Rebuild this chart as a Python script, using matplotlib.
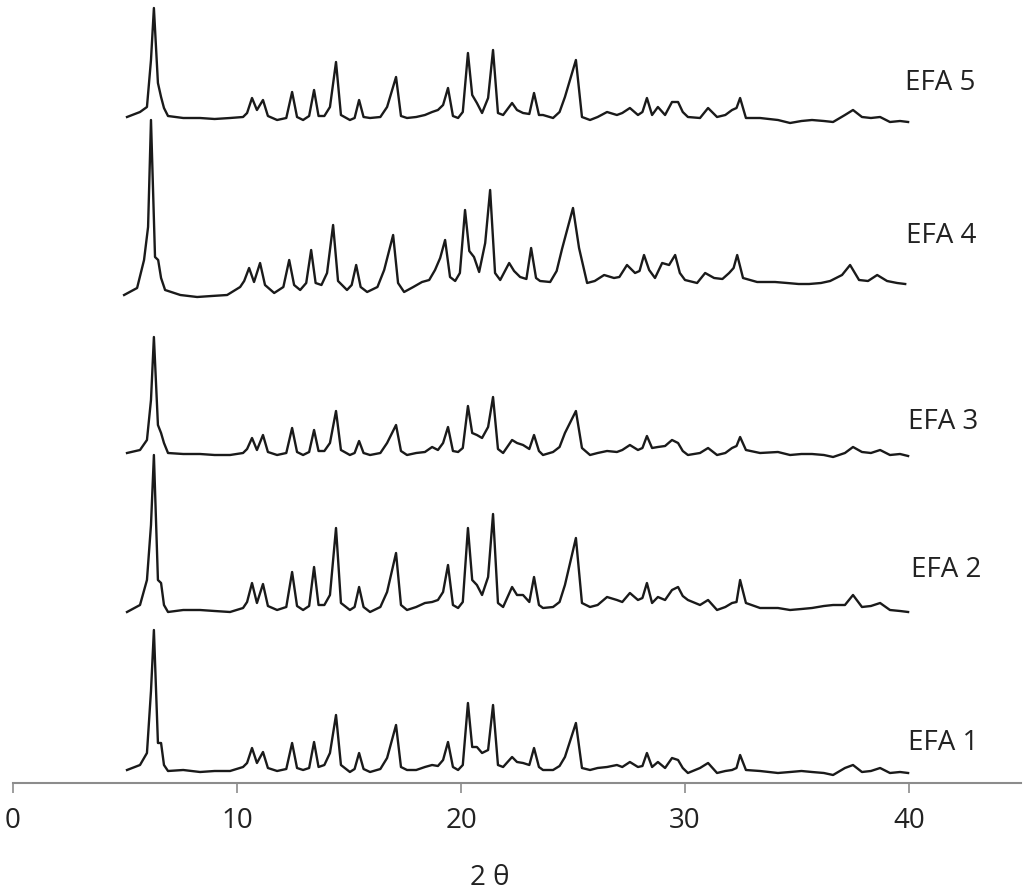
import matplotlib
matplotlib.use('Agg')
import matplotlib.pyplot as plt

# 2-theta positions of the trace vertices (degrees)
two_theta = [5.09, 5.67, 5.98, 6.16, 6.29, 6.47, 6.61, 6.74, 6.92, 7.60,
             8.35, 9.00, 9.69, 10.27, 10.45, 10.67, 10.89, 11.16, 11.38, 11.79,
             12.20, 12.46, 12.68, 12.95, 13.22, 13.44, 13.64, 13.90, 14.15, 14.42,
             14.64, 15.04, 15.25, 15.45, 15.65, 15.94, 16.40, 16.70, 17.10, 17.32,
             17.59, 18.00, 18.39, 18.71, 18.97, 19.20, 19.42, 19.64, 19.87, 20.08,
             20.31, 20.50, 20.71, 20.94, 21.21, 21.43, 21.65, 21.88, 22.28, 22.50,
             22.77, 23.05, 23.26, 23.48, 23.66, 24.11, 24.40, 24.64, 25.13, 25.40,
             25.76, 26.10, 26.52, 26.96, 27.20, 27.54, 27.90, 28.10, 28.30, 28.53,
             28.79, 29.11, 29.42, 29.69, 29.90, 30.13, 30.67, 31.03, 31.43, 31.80,
             32.10, 32.30, 32.46, 32.72, 33.35, 34.15, 34.69, 35.20, 35.67, 36.20,
             36.61, 37.14, 37.50, 37.90, 38.30, 38.71, 39.15, 39.60, 39.96]

# intensities above each baseline (a.u.)
efa1 = [1, 6, 18, 80, 141, 28, 28, 6, 0, 1,
        -1, 0, 0, 4, 8, 23, 8, 19, 3, 0,
        2, 28, 3, 1, 3, 29, 4, 6, 18, 56,
        6, -1, 2, 18, 2, -1, 2, 13, 46, 4,
        1, 1, 4, 6, 5, 11, 29, 4, 1, 6,
        68, 24, 24, 18, 21, 66, 6, 4, 14, 9,
        8, 6, 23, 4, 1, 1, 5, 14, 48, 3,
        1, 3, 4, 6, 4, 9, 4, 5, 18, 4,
        9, 3, 13, 11, 3, -2, 3, 8, -2, 0,
        1, 3, 16, 1, 0, -2, -1, 0, -1, -2,
        -4, 3, 6, -1, 0, 3, -2, -1, -2]

efa2 = [-2, 5, 30, 85, 155, 30, 27, 5, -2, 0,
        0, -1, -2, 2, 8, 27, 7, 26, 4, 0,
        3, 38, 4, 0, 4, 43, 5, 5, 15, 82,
        7, 0, 3, 23, 3, -2, 3, 18, 57, 5,
        0, 3, 7, 8, 10, 18, 45, 5, 2, 8,
        82, 30, 25, 15, 33, 96, 7, 3, 23, 15,
        15, 8, 33, 5, 2, 3, 8, 25, 72, 7,
        3, 5, 13, 10, 8, 17, 10, 12, 27, 7,
        13, 10, 20, 23, 14, 10, 5, 10, 0, 3,
        7, 8, 30, 7, 2, 2, 0, 1, 2, 4,
        5, 5, 15, 3, 4, 7, 0, -1, -2]

efa3 = [2, 5, 15, 55, 118, 30, 22, 12, 2, 1,
        1, 0, 0, 2, 6, 17, 5, 20, 3, 0,
        2, 27, 3, 0, 3, 25, 4, 4, 12, 44,
        5, 0, 2, 14, 2, 0, 2, 12, 30, 4,
        0, 2, 3, 8, 5, 12, 28, 4, 3, 7,
        49, 22, 20, 17, 28, 58, 6, 2, 15, 12,
        10, 6, 20, 4, 0, 3, 8, 22, 44, 7,
        0, 2, 4, 3, 5, 10, 5, 7, 19, 7,
        8, 9, 15, 12, 4, 0, 2, 7, 0, 2,
        7, 9, 18, 5, 2, 3, 0, 1, 1, 0,
        -2, 2, 8, 3, 2, 5, 0, 1, -1]

efa4 = [-2, 5, 33, 66, 173, 36, 33, 15, 3, -2,
        -4, -3, -2, 6, 12, 25, 11, 30, 8, 0,
        6, 33, 8, 3, 10, 43, 10, 8, 20, 68,
        12, 3, 8, 28, 6, 1, 6, 23, 58, 10,
        1, 6, 11, 13, 23, 35, 53, 16, 12, 20,
        83, 42, 36, 21, 50, 103, 20, 13, 30, 22,
        16, 14, 45, 15, 12, 11, 22, 44, 85, 45,
        10, 12, 18, 15, 16, 28, 20, 22, 38, 23,
        15, 30, 28, 38, 20, 13, 10, 20, 15, 14,
        20, 25, 38, 15, 11, 11, 10, 9, 9, 10,
        12, 18, 28, 13, 12, 18, 12, 10, 9]

efa5 = [3, 8, 13, 60, 112, 37, 23, 12, 4, 2,
        2, 1, 2, 3, 7, 22, 10, 20, 4, 0,
        2, 28, 3, 0, 4, 30, 4, 4, 13, 58,
        5, 0, 2, 20, 3, 2, 3, 13, 43, 4,
        2, 3, 5, 8, 10, 15, 32, 4, 2, 8,
        67, 25, 17, 7, 22, 70, 7, 5, 17, 10,
        7, 6, 27, 5, 5, 2, 8, 23, 60, 3,
        0, 3, 8, 5, 7, 12, 5, 8, 22, 5,
        13, 5, 18, 18, 8, 3, 2, 12, 3, 5,
        10, 12, 22, 2, 2, 0, -3, -1, 0, -1,
        -2, 5, 10, 3, 2, 3, -2, -1, -2]

series = [efa1, efa2, efa3, efa4, efa5]
labels = ['EFA 1', 'EFA 2', 'EFA 3', 'EFA 4', 'EFA 5']
shifts = [0, 0, 0, -0.13, 0]          # EFA 4 sits slightly to the left

# stacking of the traces and label places
offsets = [12, 173, 328, 490, 663]
label_xy = [(41.52, 40), (41.65, 213), (41.52, 361), (41.43, 547), (41.38, 700)]

fig = plt.figure(figsize=(10.24, 8.94), dpi=100)
ax = fig.add_axes([13 / 1024, 111 / 894, 1008 / 1024, 783 / 894])

for ys, off, sh in zip(series, offsets, shifts):
    xs = [t + sh for t in two_theta]
    ax.plot(xs, [h + off for h in ys], color='#1a1a1a', lw=1.7,
            solid_joinstyle='round', clip_on=False)

for lab, (lx, ly) in zip(labels, label_xy):
    ax.text(lx, ly, lab, fontsize=20, family='Open Sans', color='#222222',
            ha='center', va='center')

ax.set_xlim(0, 45)
ax.set_ylim(0, 783)
ax.set_xticks([0, 10, 20, 30, 40])
ax.set_yticks([])
for s in ['left', 'right', 'top']:
    ax.spines[s].set_visible(False)
ax.spines['bottom'].set_color('#8c8c8c')
ax.spines['bottom'].set_linewidth(1.5)
ax.tick_params(axis='x', direction='out', length=7, width=1.2, color='#8c8c8c',
               pad=10, labelsize=20, labelcolor='#222222')
for t in ax.get_xticklabels():
    t.set_family('Open Sans')

ax.set_xlabel('2 θ', fontsize=20, family='Open Sans', color='#222222')
ax.xaxis.set_label_coords(0.473, -0.121)
ax.xaxis.label.set_va('center')

fig.savefig('out.png', dpi=100)
